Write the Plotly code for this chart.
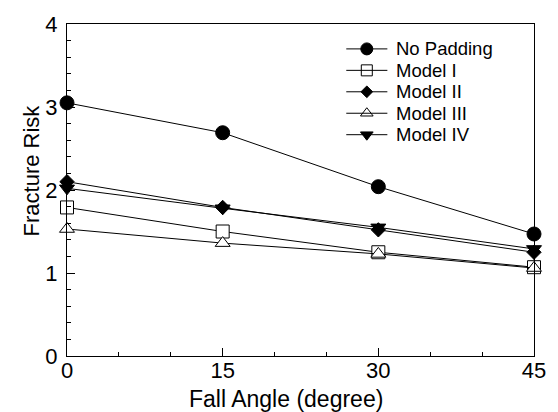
import plotly.graph_objects as go

# Fall angle (degrees) and fracture risk per padding configuration
fall_angle = [0, 15, 30, 45]
no_padding = [3.05, 2.69, 2.04, 1.47]
model_1 = [1.79, 1.50, 1.25, 1.07]
model_2 = [2.10, 1.79, 1.52, 1.25]
model_3 = [1.53, 1.36, 1.23, 1.06]
model_4 = [2.02, 1.78, 1.55, 1.29]

x_ticks = [0, 15, 30, 45]
y_ticks = [0, 1, 2, 3, 4]

FONT = "Liberation Sans, Arial, Helvetica, sans-serif"

# name -> (values, symbol, fill, marker size)
styles = {
    "No Padding": (no_padding, "circle", "black", 14),
    "Model I": (model_1, "square", "white", 13),
    "Model II": (model_2, "diamond", "black", 11),
    "Model III": (model_3, "triangle-up", "white", 13),
    "Model IV": (model_4, "triangle-down", "black", 13),
}
legend_order = ["No Padding", "Model I", "Model II", "Model III", "Model IV"]
draw_order = ["No Padding", "Model I", "Model III", "Model II", "Model IV"]

fig = go.Figure()
for name in draw_order:
    vals, sym, fill, size = styles[name]
    fig.add_trace(go.Scatter(
        x=fall_angle, y=vals, name=name, mode="lines+markers",
        line=dict(color="black", width=1),
        marker=dict(symbol=sym, size=size, color=fill,
                    line=dict(color="black", width=1)),
        cliponaxis=False, showlegend=False,
    ))

# Compact legend drawn on an overlay axis in plot-area fractions
LEG_X0, LEG_X1, LEG_TXT = 0.598, 0.686, 0.703
LEG_TOP, LEG_STEP = 0.925, 0.0646
for i, name in enumerate(legend_order):
    _, sym, fill, size = styles[name]
    yy = LEG_TOP - i * LEG_STEP
    fig.add_shape(type="line", xref="x2", yref="y2",
                  x0=LEG_X0, x1=LEG_X1, y0=yy, y1=yy,
                  line=dict(color="black", width=1))
    fig.add_trace(go.Scatter(
        x=[(LEG_X0 + LEG_X1) / 2], y=[yy], xaxis="x2", yaxis="y2",
        mode="markers", showlegend=False, hoverinfo="skip",
        marker=dict(symbol=sym, size=size - 2, color=fill,
                    line=dict(color="black", width=1)),
    ))
    fig.add_annotation(xref="x2", yref="y2", x=LEG_TXT, y=yy, text=name,
                       showarrow=False, xanchor="left", yanchor="middle",
                       borderpad=0,
                       font=dict(family=FONT, size=18.5, color="black"))

# Axis titles
fig.add_annotation(xref="paper", yref="paper", x=0.469, y=-0.129,
                   text="Fall Angle (degree)", showarrow=False,
                   xanchor="center", yanchor="middle",
                   font=dict(family=FONT, size=23, color="black"))
fig.add_annotation(xref="paper", yref="paper", x=-0.077, y=0.559,
                   text="Fracture Risk", showarrow=False, textangle=-90,
                   xanchor="center", yanchor="middle",
                   font=dict(family=FONT, size=22, color="black"))

fig.update_layout(
    width=558, height=412,
    margin=dict(l=67, r=13, t=23, b=56),
    paper_bgcolor="white", plot_bgcolor="white",
    font=dict(family=FONT, size=22, color="black"),
    showlegend=False,
    xaxis=dict(
        range=[0, 45], tickvals=x_ticks, ticks="inside", ticklen=8,
        tickcolor="black", showline=True, linecolor="black", linewidth=1,
        mirror=True, showgrid=False, zeroline=False,
        minor=dict(dtick=5, ticks="inside", ticklen=4, tickcolor="black"),
        tickfont=dict(size=22), ticklabelstandoff=-5,
    ),
    yaxis=dict(
        range=[0, 4], tickvals=y_ticks, ticks="inside", ticklen=8,
        tickcolor="black", showline=True, linecolor="black", linewidth=1,
        mirror=True, showgrid=False, zeroline=False,
        minor=dict(dtick=0.2, ticks="inside", ticklen=4, tickcolor="black"),
        tickfont=dict(size=22), ticklabelstandoff=4,
    ),
    xaxis2=dict(overlaying="x", range=[0, 1], visible=False, fixedrange=True),
    yaxis2=dict(overlaying="y", range=[0, 1], visible=False, fixedrange=True),
)

fig.write_html("out.html")
